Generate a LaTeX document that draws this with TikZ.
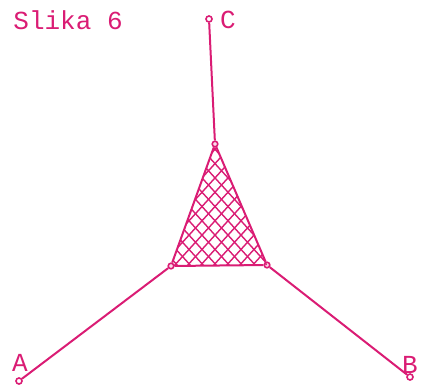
\documentclass[tikz,border=0pt]{standalone}
\usepackage{fontspec}
\setmonofont{Liberation Mono}
\usetikzlibrary{positioning}
\definecolor{ink}{RGB}{218,28,116}

\begin{document}
\begin{tikzpicture}[
  x=0.5pt, y=-0.5pt,
  font=\ttfamily\fontsize{13}{15}\selectfont,
  wire/.style={draw=ink, line width=1pt},
  hatch/.style={draw=ink, line width=0.7pt},
  term/.style={circle, draw=ink, line width=0.8pt, fill=white, inner sep=0pt, minimum size=3pt},
  vert/.style={circle, draw=ink, line width=0.8pt, fill=ink!15, inner sep=0pt, minimum size=2.8pt},
  lbl/.style={text=ink, inner sep=0pt}
]
\useasboundingbox (0,0) rectangle (421,385);

% terminals and triangle corners
\node[term] (c) at (209,19) {};
\node[term] (a) at (19,381) {};
\node[term] (b) at (410,377) {};
\node[vert] (t) at (215,144) {};
\node[vert] (l) at (171,266) {};
\node[vert] (r) at (267,265) {};

% cross hatching inside the triangle
\begin{scope}
  \clip (215,144) -- (171,266) -- (267,265) -- cycle;
  \foreach \k in {20,33,...,420} {
    \draw[hatch] (\k,135) -- ++(130,143);
    \draw[hatch] (\k,135) -- ++(-130,143);
  }
\end{scope}

\draw[wire] (t) -- (l) -- (r) -- (t);
\draw[wire] (c) -- (t);
\draw[wire] (l) -- (a);
\draw[wire] (r) -- (b);

% labels
\node[lbl, anchor=base west] (title) at (13,30) {Slika 6};
\node[lbl] (lc) at (228,20) {C};
\node[lbl] (la) at (20,363) {A};
\node[lbl] (lb) at (410,365) {B};
\end{tikzpicture}
\end{document}
